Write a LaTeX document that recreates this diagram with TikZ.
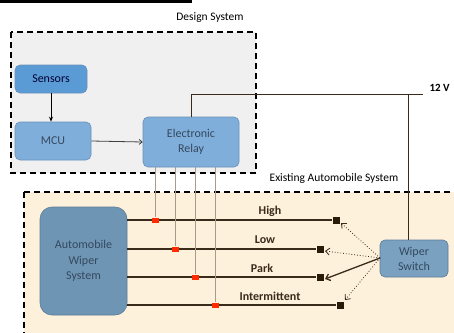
\documentclass[tikz,border=0pt]{standalone}
\usepackage{fontspec}
\setmainfont{Carlito}
\usetikzlibrary{arrows.meta}
\definecolor{dsfill}{HTML}{F0F0F0}
\definecolor{exfill}{HTML}{FEF1DC}
\definecolor{sensfill}{HTML}{5B9BD5}
\definecolor{bluefill}{HTML}{80AEDA}
\definecolor{blueedge}{HTML}{6990BA}
\definecolor{awsfill}{HTML}{6F95B5}
\definecolor{awsedge}{HTML}{5B7C96}
\definecolor{wsfill}{HTML}{7BA1C1}
\definecolor{boxtext}{HTML}{34495E}
\definecolor{wire}{HTML}{3A2A1A}
\definecolor{tap}{HTML}{A89A8C}
\definecolor{redsq}{HTML}{FF2A00}
\definecolor{blksq}{HTML}{2A1A0A}
\tikzset{
  blockbox/.style={draw=blueedge, fill=bluefill, rounded corners=5pt, align=center, text=boxtext, font=\fontsize{12}{14}\selectfont, inner sep=0pt, line width=0.6pt},
  regionbox/.style={draw=black, line width=1.2pt, dash pattern=on 6pt off 4pt},
  wirelbl/.style={font=\bfseries\fontsize{12}{14}\selectfont, text=wire},
  blkdot/.style={fill=blksq, minimum size=7pt, inner sep=0pt},
  reddot/.style={fill=redsq, minimum width=7pt, minimum height=5pt, inner sep=0pt},
  sig/.style={wire, line width=1.4pt},
  tapline/.style={tap, line width=0.8pt},
  sel/.style={wire, line width=0.8pt, dotted, -{Straight Barb[length=4pt,width=7pt]}},
  selsolid/.style={wire, line width=1.3pt, -{Straight Barb[length=4pt,width=7pt]}},
}
\begin{document}
\begin{tikzpicture}[x=1pt,y=-1pt]
\useasboundingbox (0,0) rectangle (454,332);
% title underline fragment
\draw[line width=3pt, black] (0,1.5) -- (192,1.5);
% region boxes
\draw[regionbox, fill=dsfill] (11,32) rectangle (256,173);
\draw[regionbox, fill=exfill] (24,192) rectangle (462,342);
\node[font=\fontsize{11.5}{13}\selectfont] (dslbl) at (210,18) {Design System};
\node[font=\fontsize{11.5}{13}\selectfont] (exlbl) at (334,178) {Existing Automobile System};
% design blocks
\node[blockbox, fill=sensfill, minimum width=72pt, minimum height=28pt, text=black!80!blue] (sens) at (51,79) {Sensors};
\node[blockbox, minimum width=76pt, minimum height=38pt] (mcu) at (53,141) {MCU};
\node[blockbox, minimum width=96pt, minimum height=50pt] (relay) at (191,142) {Electronic\\[1pt]Relay};
\draw[line width=0.8pt, -{Stealth[length=5pt,width=4pt]}] (sens.south -| 51,0) -- (mcu.north -| 51,0);
\draw[line width=0.8pt, darkgray, -{Straight Barb[length=3pt,width=5pt]}] (mcu.east) -- (relay.west);
% 12 V supply
\coordinate (vtop) at (191,94);
\coordinate (vend) at (423,94);
\coordinate (vjunc) at (408,94);
\draw[wire, line width=0.9pt] (relay.north) -- (vtop) -- (vend);
\node[anchor=west, font=\bfseries\fontsize{11}{13}\selectfont, text=black] (v12) at (426,88) {12 V};
% existing system blocks
\node[draw=awsedge, fill=awsfill, rounded corners=12pt, minimum width=87pt, minimum height=108pt, align=center, text=boxtext, font=\fontsize{12}{15.5}\selectfont, line width=0.6pt] (aws) at (83.5,261) {Automobile\\Wiper\\System};
\node[draw=awsedge, fill=wsfill, rounded corners=5pt, minimum width=68pt, minimum height=37pt, align=center, text=boxtext, font=\fontsize{12}{15}\selectfont, line width=0.6pt] (ws) at (414,258.5) {Wiper\\Switch};
\draw[wire, line width=0.9pt] (vjunc) -- (ws.north -| vjunc);
% wire end squares
\node[blkdot] (sq1) at (336,220) {};
\node[blkdot] (sq2) at (320,249) {};
\node[blkdot] (sq3) at (320,277) {};
\node[blkdot] (sq4) at (340,305) {};
% signal lines
\draw[sig] (aws.east |- sq1) -- (sq1.west);
\draw[sig] (aws.east |- sq2) -- (sq2.west);
\draw[sig] (aws.east |- sq3) -- (sq3.west);
\draw[sig] (aws.east |- sq4) -- (sq4.west);
% labels
\node[wirelbl] (lh) at (270,211) {High};
\node[wirelbl] (ll) at (265,240) {Low};
\node[wirelbl] (lp) at (262,268) {Park};
\node[wirelbl] (li) at (270,296) {Intermittent};
% relay taps
\node[reddot] (r1) at (155,220) {};
\node[reddot] (r2) at (175,249) {};
\node[reddot] (r3) at (195,277) {};
\node[reddot] (r4) at (215,305) {};
\draw[tapline] (relay.south -| r1) -- (r1.north);
\draw[tapline] (relay.south -| r2) -- (r2.north);
\draw[tapline] (relay.south -| r3) -- (r3.north);
\draw[tapline] (relay.south -| r4) -- (r4.north);
% switch selection arrows
\coordinate (wsp) at (380,258);
\draw[sel] (wsp) -- (341,223);
\draw[sel] (wsp) -- (325,251);
\draw[selsolid] (wsp) -- (325,279);
\draw[sel] (wsp) -- (345,300);
\end{tikzpicture}
\end{document}
